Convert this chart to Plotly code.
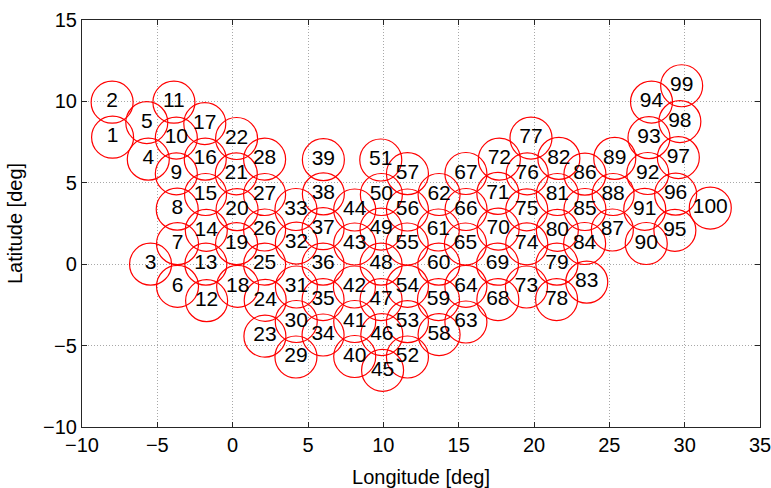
import plotly.graph_objects as go

# Beam centres: longitude / latitude in degrees, beam number = index + 1
lon = [
    -7.97, -8.00, -5.45, -5.60, -5.70, -3.66, -3.66, -3.68, -3.74, -3.74,
    -3.90, -1.73, -1.78, -1.75, -1.80, -1.82, -1.85, 0.33, 0.26, 0.29,
    0.24, 0.26, 2.14, 2.16, 2.12, 2.12, 2.12, 2.12, 4.20, 4.22,
    4.23, 4.23, 4.20, 6.00, 6.00, 6.00, 6.00, 6.02, 6.02, 8.10,
    8.10, 8.08, 8.10, 8.10, 9.95, 9.90, 9.85, 9.85, 9.85, 9.87,
    9.83, 11.60, 11.60, 11.60, 11.58, 11.60, 11.60, 13.70, 13.66, 13.68,
    13.65, 13.70, 15.48, 15.48, 15.45, 15.49, 15.48, 17.60, 17.58, 17.62,
    17.60, 17.70, 19.50, 19.52, 19.52, 19.55, 19.80, 21.50, 21.52, 21.55,
    21.55, 21.65, 23.50, 23.36, 23.38, 23.38, 25.20, 25.25, 25.36, 27.45,
    27.35, 27.55, 27.63, 27.80, 29.35, 29.40, 29.58, 29.68, 29.80, 31.70,
]
lat = [
    7.80, 9.95, 0.00, 6.45, 8.70, -1.36, 1.26, 3.38, 5.55, 7.75,
    9.95, -2.24, 0.00, 2.08, 4.28, 6.45, 8.64, -1.36, 1.26, 3.35,
    5.55, 7.72, -4.42, -2.22, 0.00, 2.10, 4.28, 6.45, -5.70, -3.52,
    -1.40, 1.30, 3.36, -4.35, -2.17, 0.00, 2.18, 4.32, 6.42, -5.67,
    -3.52, -1.40, 1.24, 3.33, -6.52, -4.32, -2.17, 0.00, 2.16, 4.28,
    6.40, -5.70, -3.53, -1.36, 1.24, 3.33, 5.56, -4.32, -2.17, 0.00,
    2.10, 4.28, -3.55, -1.36, 1.24, 3.36, 5.57, -2.17, 0.00, 2.16,
    4.35, 6.45, -1.40, 1.25, 3.34, 5.55, 7.75, -2.17, 0.00, 2.08,
    4.28, 6.50, -1.10, 1.27, 3.36, 5.53, 2.10, 4.28, 6.50, 1.27,
    3.37, 5.57, 7.77, 9.96, 2.08, 4.30, 6.55, 8.76, 10.96, 3.45,
]
beam_ids = [str(i + 1) for i in range(len(lon))]

x_ticks = [-10, -5, 0, 5, 10, 15, 20, 25, 30, 35]
y_ticks = [-10, -5, 0, 5, 10, 15]

FONT = "Liberation Sans, Arial, Helvetica, sans-serif"

fig = go.Figure()
fig.add_trace(go.Scatter(
    x=lon, y=lat, text=beam_ids,
    mode="markers+text",
    textposition="middle center",
    textfont=dict(family=FONT, size=21, color="black"),
    marker=dict(symbol="circle-open", size=42,
                color="#ff0000", line=dict(color="#ff0000", width=1.2)),
    cliponaxis=False,
    hoverinfo="skip",
    showlegend=False,
))

axis_common = dict(
    showline=True, linecolor="#262626", linewidth=1.2, mirror="ticks",
    ticks="inside", ticklen=5, tickwidth=1.2, tickcolor="#262626",
    showgrid=True, gridcolor="#a8a8a8", gridwidth=1, griddash="1px,2px",
    zeroline=False, automargin=False, ticklabeloverflow="allow",
    tickfont=dict(family=FONT, size=20, color="black"),
)

fig.update_layout(
    width=771, height=488,
    margin=dict(l=82, r=11, t=20, b=61),
    paper_bgcolor="white", plot_bgcolor="white",
    font=dict(family=FONT, color="black"),
    xaxis=dict(range=[-10, 35], tickvals=x_ticks,
               title=dict(text="Longitude [deg]", font=dict(size=20), standoff=16),
               **axis_common),
    yaxis=dict(range=[-10, 15], tickvals=y_ticks,
               title=dict(text="Latitude [deg]", font=dict(size=20), standoff=14),
               **axis_common),
)

fig.write_html("out.html")
